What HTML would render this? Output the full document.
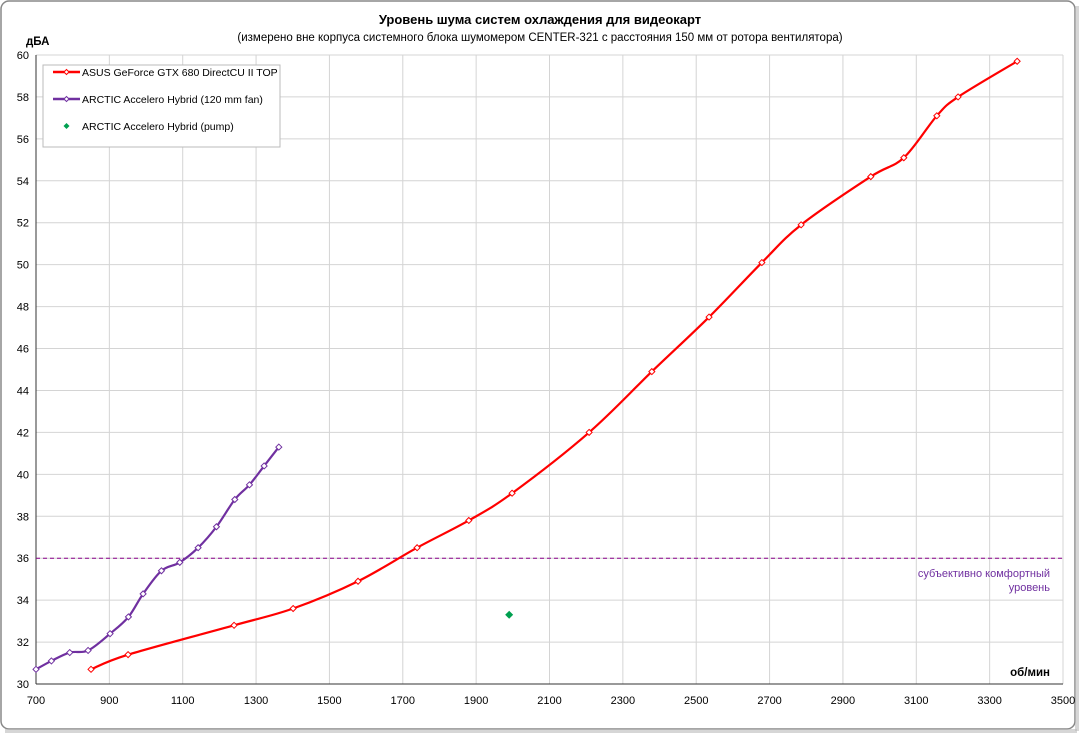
<!DOCTYPE html>
<html><head><meta charset="utf-8"><style>
body{margin:0;background:#fff;}
svg{display:block;font-family:"Liberation Sans",sans-serif;}
</style></head><body>
<svg id="c" width="1081" height="735">
<rect x="1" y="1" width="1074" height="728" rx="8" fill="#fff" stroke="#888" stroke-width="1.5"/>
<rect x="5" y="729" width="1072" height="4" fill="#bbb" opacity="0.6"/>
<rect x="1075" y="6" width="4" height="725" fill="#bbb" opacity="0.6"/>
<text x="540" y="24" text-anchor="middle" font-size="13" font-weight="bold">Уровень шума систем охлаждения для видеокарт</text>
<text x="540" y="41" text-anchor="middle" font-size="11.5">(измерено вне корпуса системного блока шумомером CENTER-321 с расстояния 150  мм от ротора вентилятора)</text>
<text x="26" y="45" font-size="11.5" font-weight="bold">дБА</text>
<text x="1050" y="676" text-anchor="end" font-size="11.5" font-weight="bold">об/мин</text>
<g id="grid"></g><g id="series"></g>
<g>
<rect x="43" y="65" width="237" height="82" fill="#fff" stroke="#bbb"/>
<line x1="53" y1="72" x2="80" y2="72" stroke="#f00" stroke-width="2.5"/><path d="M66.5 69.5l2.5 2.5-2.5 2.5-2.5-2.5z" fill="#fff" stroke="#f00"/>
<text x="82" y="76" font-size="10.5">ASUS GeForce GTX 680 DirectCU II TOP</text>
<line x1="53" y1="99" x2="80" y2="99" stroke="#7030a0" stroke-width="2.5"/><path d="M66.5 96.5l2.5 2.5-2.5 2.5-2.5-2.5z" fill="#fff" stroke="#7030a0"/>
<text x="82" y="103" font-size="10.5">ARCTIC Accelero Hybrid (120 mm fan)</text>
<path d="M66.5 123l3 3-3 3-3-3z" fill="#00a050"/>
<text x="82" y="130" font-size="10.5">ARCTIC Accelero Hybrid (pump)</text>
</g>
<text x="1050" y="577" text-anchor="end" font-size="11" fill="#7030a0">субъективно комфортный</text>
<text x="1050" y="591" text-anchor="end" font-size="11" fill="#7030a0">уровень</text>
</svg>
<script>
const xTicks=[700,900,1100,1300,1500,1700,1900,2100,2300,2500,2700,2900,3100,3300,3500];
const yTicks=[30,32,34,36,38,40,42,44,46,48,50,52,54,56,58,60];
const asusRpm=[850,951,1240,1401,1578,1739,1880,1998,2208,2379,2535,2679,2786,2976,3066,3156,3214,3375];
const asusDb=[30.7,31.4,32.8,33.6,34.9,36.5,37.8,39.1,42.0,44.9,47.5,50.1,51.9,54.2,55.1,57.1,58.0,59.7];
const fanRpm=[700,742,792,842,902,952,992,1042,1092,1142,1192,1242,1282,1322,1362];
const fanDb=[30.7,31.1,31.5,31.6,32.4,33.2,34.3,35.4,35.8,36.5,37.5,38.8,39.5,40.4,41.3];
const pumpRpm=[1990];
const pumpDb=[33.3];
const comfortDb=36;
const X0=36,X1=1063,Y0=684,Y1=55;
const sx=v=>X0+(v-700)/(3500-700)*(X1-X0);
const sy=v=>Y0-(v-30)/(60-30)*(Y0-Y1);
const NS="http://www.w3.org/2000/svg";
const g=document.getElementById('grid'),s=document.getElementById('series');
function mk(p,tag,a){const e=document.createElementNS(NS,tag);for(const k in a)e.setAttribute(k,a[k]);p.appendChild(e);return e;}
xTicks.forEach(t=>{
 const l=mk(g,'line',{x1:sx(t),x2:sx(t),y1:Y1,y2:Y0,stroke:'#d4d4d4'});
 
 
 const tx=mk(g,'text',{x:sx(t),y:Y0+20,'text-anchor':'middle','font-size':11});tx.textContent=t;
 
 
});
yTicks.forEach(t=>{
 const l=mk(g,'line',{x1:X0,x2:X1,y1:sy(t),y2:sy(t),stroke:'#d4d4d4'});
 
 
 const tx=mk(g,'text',{x:X0-7,y:sy(t)+4,'text-anchor':'end','font-size':11});tx.textContent=t;
 
 
});
mk(g,'line',{x1:X0,x2:X0,y1:Y1,y2:Y0,stroke:'#333'});
mk(g,'line',{x1:X0,x2:X1,y1:Y0,y2:Y0,stroke:'#333'});
const cl=mk(g,'line',{x1:X0,x2:X1,y1:sy(comfortDb),y2:sy(comfortDb),stroke:'#8b008b','stroke-dasharray':'4 3'});


function smooth(px){let d=`M${px[0][0]},${px[0][1]}`;for(let i=0;i<px.length-1;i++){const p0=px[i-1]||px[i],p1=px[i],p2=px[i+1],p3=px[i+2]||p2;
 d+=` C${p1[0]+(p2[0]-p0[0])/6},${p1[1]+(p2[1]-p0[1])/6} ${p2[0]-(p3[0]-p1[0])/6},${p2[1]-(p3[1]-p1[1])/6} ${p2[0]},${p2[1]}`;}return d;}
function series(xs,ys,col,name){
 const px=xs.map((x,i)=>[sx(x),sy(ys[i])]);
 const p=mk(s,'path',{d:smooth(px),fill:'none',stroke:col,'stroke-width':2.2});
 
 
 px.forEach(q=>{const m=mk(s,'path',{d:`M${q[0]} ${q[1]-3}l3 3-3 3-3-3z`,fill:'#fff',stroke:col,'stroke-width':1});
 
 });
}
series(asusRpm,asusDb,'#ff0000','asus');
series(fanRpm,fanDb,'#7030a0','arctic-fan');
pumpRpm.forEach((x,i)=>{const m=mk(s,'path',{d:`M${sx(x)} ${sy(pumpDb[i])-4}l4 4-4 4-4-4z`,fill:'#00a050'});
 
 });
</script>
</body></html>
